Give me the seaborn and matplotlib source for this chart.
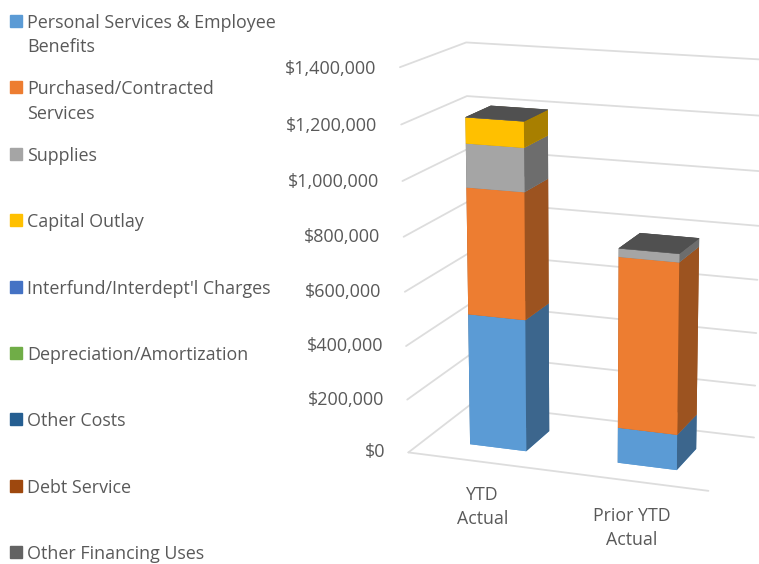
import matplotlib
matplotlib.use("Agg")
import numpy as np
import pandas as pd
import seaborn as sns
import matplotlib.pyplot as plt
from matplotlib.patches import Rectangle
from mpl_toolkits.mplot3d import proj3d

categories = ["YTD\nActual", "Prior YTD\nActual"]
series_names = ["Personal Services & Employee\nBenefits", "Purchased/Contracted\nServices", "Supplies",
                "Capital Outlay", "Interfund/Interdept'l Charges", "Depreciation/Amortization",
                "Other Costs", "Debt Service", "Other Financing Uses"]
ytd_values = [492000, 465000, 158000, 93000, 0, 0, 0, 0, 1000]
prior_values = [131000, 624000, 30000, 0, 0, 0, 0, 0, 1000]
tick_values = [0, 200000, 400000, 600000, 800000, 1000000, 1200000, 1400000]
colors = ["#5B9BD5", "#ED7D31", "#A5A5A5", "#FFC000", "#4472C4", "#70AD47", "#255E91", "#9E480E", "#636363"]

df = pd.DataFrame({"series": series_names, categories[0]: ytd_values, categories[1]: prior_values})

sns.set_theme(style="white")
plt.rcParams["font.family"] = ["Open Sans", "DejaVu Sans"]
palette = sns.color_palette(colors)
grey_text = "#595959"
grid_col = "#DDDDDD"

fig = plt.figure(figsize=(7.59, 5.64), dpi=100)
ax = fig.add_axes([0.258, 0.028, 1, 1], projection="3d", computed_zorder=False)
ax.set_box_aspect((287, 148, 357), zoom=0.915)
ax.view_init(elev=14.7, azim=-70)
ax.set_proj_type("persp", focal_length=0.7)
ax.set_xlim(0, 2)
ax.set_ylim(0, 1)
ax.set_zlim(0, 1400000)
ax.set_axis_off()

# walls
for v in tick_values:
    ax.plot([0, 0, 2], [0, 1, 1], [v, v, v], color=grid_col, lw=1.3, zorder=1)
ax.plot([0, 2], [0, 0], [0, 0], color=grid_col, lw=1.3, zorder=1)

# stacked bars
x_starts = [0.31, 1.32]
for i, cat in enumerate(categories):
    bottom = 0
    for j, val in enumerate(df[cat]):
        if val == 0:
            continue
        c = np.array(palette[j])
        side = tuple(c * 0.66)
        top = "#505050"
        face = [tuple(c), top, tuple(c), side, side, side]
        ax.bar3d(x_starts[i], 0.27, bottom, 0.39, 0.4, val, color=face, shade=False, zorder=3 + j, linewidth=0)
        bottom += val

# axis labels, projected by hand so they are plain 2d texts
def label_3d(x, y, z, s, **kw):
    px, py, _ = proj3d.proj_transform(x, y, z, ax.get_proj())
    ax.text2D(px, py, s, transform=ax.transData, color=grey_text, va="center", **kw)

for v in tick_values:
    label_3d(-0.16, 0, v - 10000, f"${v:,}", ha="right", fontsize=13)
for i, cat in enumerate(categories):
    label_3d(x_starts[i] + [0.2, 0.19][i], 0, -170000 - [0, 5000][i], cat, ha="center", fontsize=12.8, linespacing=1.4)

# legend
for i, name in enumerate(series_names):
    y = 21 + i * 66.4
    fig.add_artist(Rectangle((10 / 759, 1 - (y + 6) / 564), 12 / 759, 12 / 564, color=palette[i], transform=fig.transFigure))
    fig.text(27 / 759, 1 - (y - 7) / 564, name, ha="left", va="top", fontsize=12.9, color=grey_text, linespacing=1.45)

fig.savefig("out.png", dpi=100)
